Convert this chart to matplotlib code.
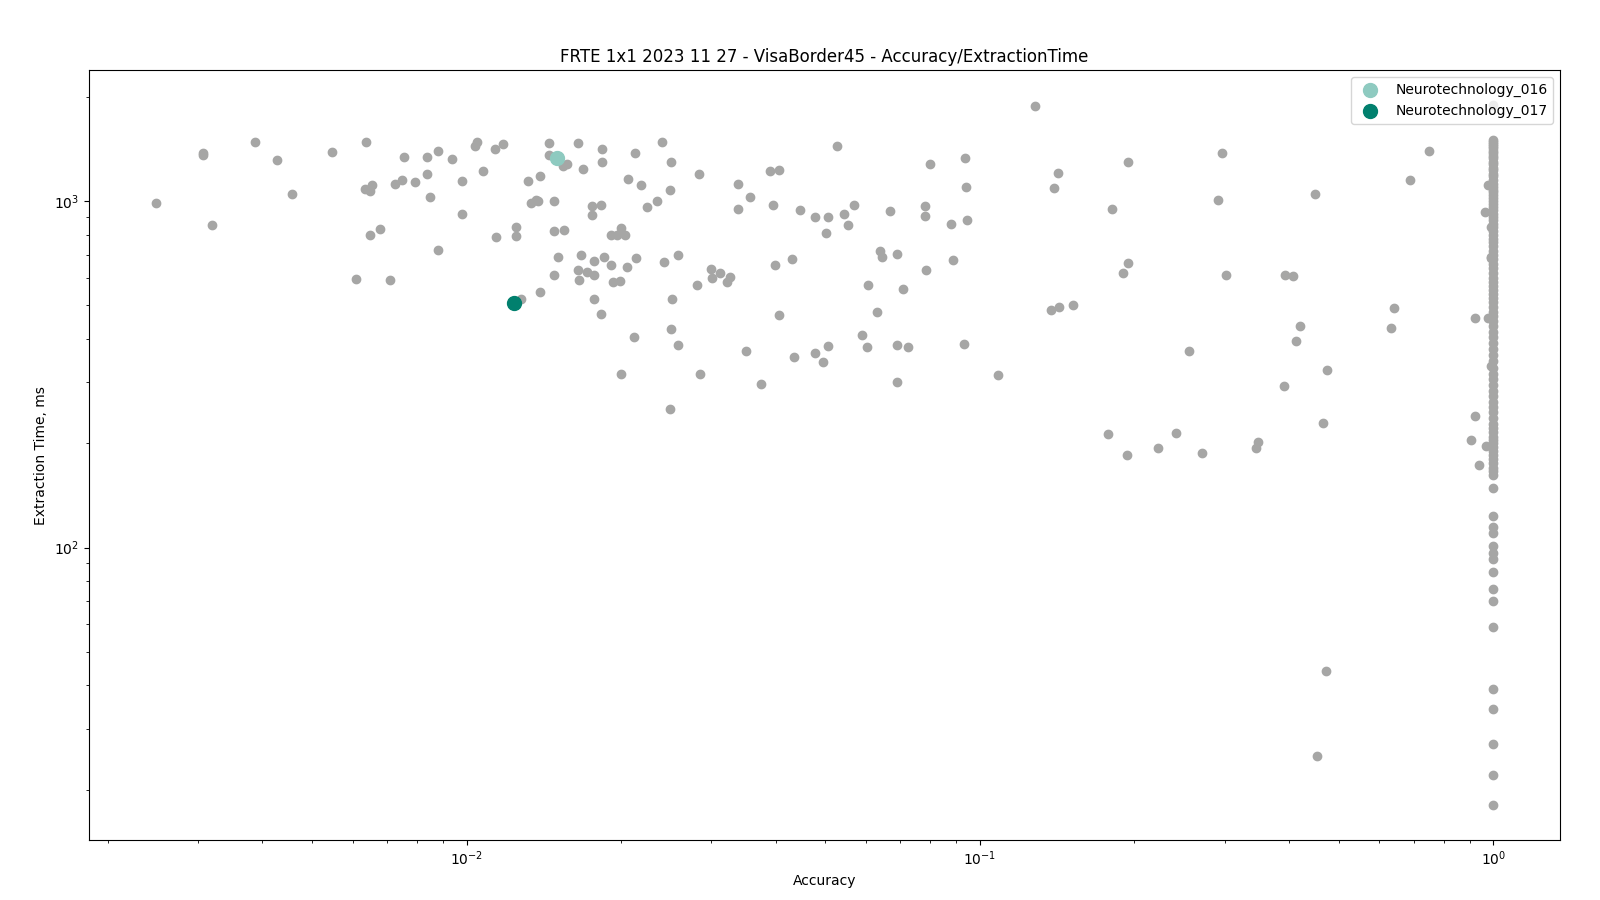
import matplotlib
matplotlib.use("Agg")
import matplotlib.pyplot as plt

title = "FRTE 1x1 2023 11 27 - VisaBorder45 - Accuracy/ExtractionTime"
x_label = "Accuracy"
y_label = "Extraction Time, ms"

# Other algorithms (grey)
other_accuracy = [
    0.00248, 0.00307, 0.00306, 0.00319, 0.00388, 0.00428, 0.00458, 0.00548, 0.00608, 0.00636,
    0.00634, 0.00648, 0.00655, 0.00648, 0.00677, 0.00708, 0.00727, 0.00747, 0.00756, 0.00795,
    0.00836, 0.00836, 0.00847, 0.00878, 0.00878, 0.00935, 0.00978, 0.00978, 0.01037, 0.01048,
    0.01134, 0.01075, 0.01143, 0.01175, 0.01445, 0.01645, 0.01832, 0.01832, 0.02126, 0.02399,
    0.02498, 0.0526, 0.01445, 0.01538, 0.01571, 0.01683, 0.01315, 0.01388, 0.0206, 0.02183,
    0.02832, 0.02486, 0.02345, 0.02242, 0.01337, 0.01367, 0.01378, 0.01478, 0.01752, 0.01824,
    0.01752, 0.03373, 0.0356, 0.03373, 0.03895, 0.04055, 0.03947, 0.04457, 0.04765, 0.05051,
    0.05005, 0.05428, 0.05677, 0.05525, 0.06673, 0.01246, 0.01246, 0.01478, 0.01545, 0.01908,
    0.01995, 0.01963, 0.02031, 0.01504, 0.01668, 0.01768, 0.01849, 0.01908, 0.0205, 0.02135,
    0.0242, 0.02577, 0.01478, 0.01645, 0.01713, 0.01768, 0.01653, 0.01926, 0.0199, 0.02988,
    0.03111, 0.03002, 0.03253, 0.03211, 0.02806, 0.01393, 0.01274, 0.01768, 0.01824, 0.02516,
    0.02116, 0.02498, 0.02577, 0.01995, 0.02843, 0.02486, 0.03994, 0.04299, 0.04055, 0.03497,
    0.04338, 0.04765, 0.05051, 0.04939, 0.03739, 0.06043, 0.06292, 0.05883, 0.06016, 0.06377,
    0.06435, 0.06904, 0.0707, 0.06904, 0.07229, 0.06904,
    0.1279, 0.0798, 0.0934, 0.0938, 0.1417, 0.1392, 0.1941, 0.2958, 0.2905, 0.1806,
    0.078, 0.078, 0.0877, 0.0942, 0.0784, 0.0885, 0.1941, 0.1897, 0.301, 0.3936,
    0.4067, 0.1378, 0.1424, 0.1516, 0.093, 0.1083, 0.2552, 0.4198, 0.4122, 0.3907,
    0.1774, 0.2406, 0.1932, 0.2219, 0.2704, 0.3476, 0.3444, 0.6402, 0.631, 0.4738,
    0.4653, 0.4716, 0.4529, 0.7486, 0.6879, 0.4486, 0.9205, 0.9773, 0.9773, 0.9614,
    0.9886, 0.9886, 0.9205, 0.9041, 0.9699, 0.937, 0.9886, 0.99, 1.0,
]
other_time = [
    985, 1379, 1360, 853, 1479, 1313, 1052, 1384, 596, 1479,
    1083, 1069, 1110, 798, 829, 592, 1117, 1150, 1345, 1132,
    1345, 1201, 1027, 1400, 723, 1322, 1142, 918, 1440, 1479,
    1415, 1220, 788, 1466, 1476, 1476, 1410, 1293, 1381, 1486,
    1301, 1447, 1357, 1261, 1279, 1242, 1147, 1178, 1162, 1110,
    1194, 1074, 998, 959, 987, 1007, 999, 998, 966, 972,
    910, 1120, 1025, 947, 1220, 1226, 972, 940, 898, 898,
    807, 916, 972, 851, 936, 840, 791, 818, 823, 796,
    835, 796, 796, 688, 697, 670, 688, 653, 644, 684,
    669, 697, 611, 631, 623, 611, 591, 583, 587, 636,
    619, 599, 603, 583, 572, 546, 523, 521, 472, 521,
    405, 427, 384, 317, 317, 251, 653, 680, 468, 369,
    354, 364, 381, 343, 296, 572, 478, 410, 379, 719,
    691, 702, 557, 384, 379, 300,
    1888, 1284, 1336, 1095, 1209, 1089, 1293, 1381, 1005, 947,
    966, 903, 857, 880, 631, 675, 662, 619, 611, 611,
    607, 485, 494, 501, 386, 315, 369, 437, 394, 292,
    213, 214, 185, 194, 187, 202, 194, 491, 430, 326,
    229, 44.1, 25.1, 1394, 1150, 1052, 460, 460, 1110, 928,
    844, 684, 240, 205, 197, 173, 335, 692, 1890,
]

# Algorithms with perfect accuracy (column at 1.0)
column_time = [
    1500, 1480, 1460, 1440, 1420, 1400, 1380, 1350, 1330, 1300,
    1280, 1250, 1230, 1200, 1180, 1150, 1120, 1100, 1080, 1060,
    1040, 1020, 1000, 980, 960, 940, 920, 900, 880, 860,
    840, 820, 800, 780, 760, 740, 720, 700, 680, 660,
    640, 620, 600, 585, 570, 555, 540, 525, 510, 495,
    480, 465, 450, 435, 420, 405, 390, 375, 360, 345,
    330, 318, 306, 295, 284, 274, 264, 255, 246, 236,
    228, 222, 215, 209, 205, 200, 195, 190, 185, 180,
    175, 170, 166, 162, 149, 123, 115, 110, 101, 96.5,
    93, 85, 76, 70, 59, 39, 34.3, 27.2, 22.1, 18.1,
]
column_accuracy = [1.0] * len(column_time)

highlight_names = ["Neurotechnology_016", "Neurotechnology_017"]
highlight_accuracy = [0.01497, 0.01235]
highlight_time = [1336, 507]
highlight_colors = ["#8ECAC0", "#01806E"]

fig = plt.figure(figsize=(16, 9), dpi=100)
ax = fig.add_axes([0.0555, 0.0669, 0.9196, 0.8549])

grey = "#a6a6a5"
ax.scatter(other_accuracy + column_accuracy, other_time + column_time,
           s=36, color=grey, zorder=2)
for name, xa, yt, c in zip(highlight_names, highlight_accuracy, highlight_time, highlight_colors):
    ax.scatter([xa], [yt], s=100, color=c, label=name, zorder=3)

ax.set_xscale("log")
ax.set_yscale("log")
ax.set_title(title, fontsize=12)
ax.set_xlabel(x_label)
ax.set_ylabel(y_label)
ax.legend(loc="upper right")

fig.savefig("out.png", dpi=100)
